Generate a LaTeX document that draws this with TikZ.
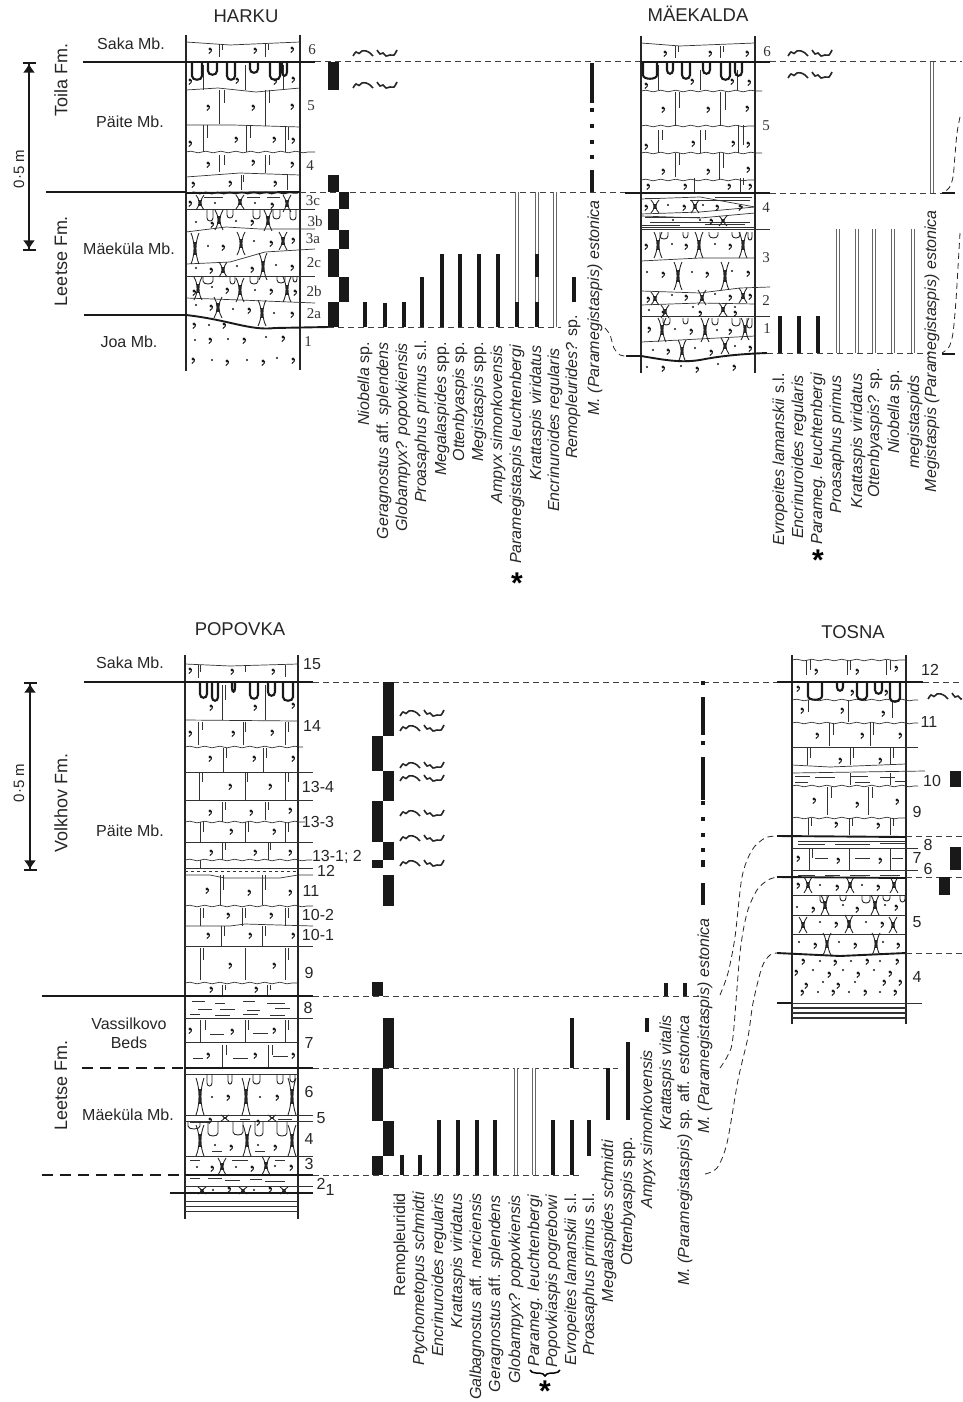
\documentclass[tikz,border=0pt]{standalone}
\usepackage{fontspec}
\setmainfont{Liberation Sans}
\newfontfamily\bedfont{Liberation Serif}
\usetikzlibrary{arrows.meta,decorations.pathmorphing,decorations.pathreplacing}
\tikzset{
  wall/.style={line width=1.9pt,black!85},
  marker/.style={line width=1.9pt,black!90},
  burrowline/.style={line width=2.1pt,black!90},
  bedline/.style={line width=.7pt,black!80},
  wavyline/.style={bedline,decorate,decoration={snake,amplitude=.8pt,segment length=15pt}},
  pinchline/.style={line width=.9pt,black!85},
  thindash/.style={line width=1pt,black!75,dash pattern=on 6pt off 4pt},
  thickdash/.style={line width=1.9pt,black!90,dash pattern=on 11pt off 7pt},
  curvedash/.style={line width=.8pt,black!85,dash pattern=on 6pt off 4pt},
  rangebar/.style={line width=4pt,black!90},
  openbar/.style={line width=.8pt,black!60,double=white,double distance=2.4pt},
  scalebar/.style={line width=1.6pt,black!90,{Bar[width=13pt]Latex[length=9pt,width=12pt]}-{Latex[length=9pt,width=12pt]Bar[width=13pt]}},
  titlelbl/.style={inner sep=0pt,font=\fontsize{18.5}{20}\selectfont,black!85},
  unitlbl/.style={inner sep=0pt,font=\fontsize{16}{19}\selectfont,black!85,align=center},
  fmlbl/.style={inner sep=0pt,rotate=90,font=\fontsize{18}{20}\selectfont,black!85},
  metrelbl/.style={inner sep=0pt,rotate=90,font=\fontsize{15}{18}\selectfont,black!85},
  bednum/.style={inner sep=0pt,font=\bedfont\fontsize{15}{17}\selectfont,black!80},
  bedsans/.style={inner sep=0pt,font=\fontsize{16}{18}\selectfont,black!85},
  taxon/.style={inner sep=0pt,rotate=90,anchor=east,font=\fontsize{16}{18}\selectfont\itshape,black!85},
  starlbl/.style={inner sep=0pt,font=\fontsize{30}{30}\selectfont\bfseries}
}
\newcommand{\limes}[1]{\foreach \x/\y in {#1} {\fill[black!90] (\x,\y) circle (1.6pt); \draw[line width=1pt,black!90] (\x+1.4,\y) .. controls (\x+1.5,\y+2.5) .. (\x-1.2,\y+4.5);}}
\newcommand{\sand}[1]{\foreach \x/\y in {#1} \fill[black!90] (\x,\y) circle (1.2pt);}
\newcommand{\joints}[1]{\foreach \x/\a/\b in {#1} \draw[bedline] (\x,\a) -- (\x,\b);}
\newcommand{\pinches}[1]{\foreach \x/\a/\b in {#1} {
  \draw[pinchline] (\x-4,\a) .. controls (\x,{\a+(\b-\a)*.3}) and (\x,{\b-(\b-\a)*.3}) .. (\x-4,\b);
  \draw[pinchline] (\x+4,\a) .. controls (\x,{\a+(\b-\a)*.3}) and (\x,{\b-(\b-\a)*.3}) .. (\x+4,\b);
  \draw[line width=1.7pt,black!85] (\x,{\a+(\b-\a)*.3}) -- (\x,{\b-(\b-\a)*.3});}}
\newcommand{\burrows}[2]{\foreach \a/\b/\d in {#2} \draw[burrowline] (\a,#1) -- (\a,#1+\d-2) .. controls (\a,#1+\d+3) and (\b,#1+\d+3) .. (\b,#1+\d-2) -- (\b,#1);}
\newcommand{\lobes}[2]{\foreach \a/\b/\d in {#2} \draw[pinchline] (\a,#1) -- (\a,#1+\d-3) .. controls (\a,#1+\d+1) and (\b,#1+\d+1) .. (\b,#1+\d-3) -- (\b,#1);}
\newcommand{\mudlines}[1]{\foreach \a/\b/\y in {#1} \draw[bedline] (\a,\y) -- (\b,\y);}
\newcommand{\bars}[1]{\foreach \x/\a/\b in {#1} \draw[rangebar] (\x,\a) -- (\x,\b);}
\newcommand{\openbars}[1]{\foreach \x/\a/\b in {#1} \draw[openbar] (\x,\a) -- (\x,\b);}
\newcommand{\blocks}[1]{\foreach \l/\r/\a/\b in {#1} \fill[black!90] (\l,\a) rectangle (\r,\b);}
\newcommand{\traces}[2]{
  \draw[line width=1.6pt,black!85] plot[smooth] coordinates {(#1,#2+4) (#1+3,#2) (#1+6,#2+1.5) (#1+9,#2-1) (#1+13,#2-1) (#1+17,#2+1) (#1+20,#2+4)};
  \draw[line width=1.6pt,black!85] plot[smooth] coordinates {(#1+24,#2-2) (#1+27,#2+2) (#1+30,#2+1) (#1+33,#2+4) (#1+37,#2+3) (#1+41,#2+3) (#1+44,#2-2)};}
\begin{document}
\begin{tikzpicture}[x=1pt,y=-1pt]
\path[use as bounding box,clip] (0,0) rectangle (962,1402);
% HARKU
\node[titlelbl] (harku) at (246,16) {HARKU};
\draw[wall] (186,35) -- (186,371);
\draw[wall] (300,35) -- (300,370);
\draw[bedline] (186,42) -- (230,45) -- (300,42);
\draw[bedline] (186,90) -- (218,88) -- (256,92) -- (300,88);
\draw[bedline] (186,125) -- (233,125) -- (300,127);
\draw[wavyline] (186,152) -- (315,152);
\draw[bedline] (186,177) -- (240,173) -- (300,175);
\draw[bedline] (186,209) -- (315,209);
\draw[bedline] (186,232) -- (226,227) -- (260,229) -- (315,229);
\draw[bedline] (186,264) -- (230,262) -- (265,252) -- (315,249);
\draw[bedline] (186,276) -- (315,276);
\draw[bedline] (186,298) -- (240,300) -- (315,303);
\joints{219/44/57,222/44/50,265/44/57,268/44/50,203/65/90,245/65/90,283/65/90,219/90/124,224/90/103,265/90/126,269/90/103,203/125/152,207/125/138,246/125/152,250/125/138,285/127/152,288/127/140,219/155/172,224/155/165,265/155/173,269/155/165,241/175/190,243/175/182,287/175/190}
\limes{210/49,255/49,292/48,190/80,237/79,275/80,293/78,208/106,253/106,292/105,190/142,236/138,274/138,293/139,208/163,253/161,292/163,193/183,230/182,275/182,190/202,272/204,212/223,252/221,223/246,271/242,293/239,211/269,252/268,292/266,194/291,227/289,271/290,295/291,211/306,249/309,292/313,194/324,224/324,210/339,244/339,283/337,193/359,227/361,263/361,293/359}
\sand{215/203,255/203,196/222,236/221,208/246,254/241,196/268,237/266,276/265,212/287,255/290,196/305,233/309,274/313,209/325,195/340,228/339,266/337,212/360,247/360,277/358}
\burrows{62}{192/202/16,208/217/11,227/235/16,250/258/9,270/280/16,282/287/12}
\lobes{209}{207/213/12,227/233/9,253/260/10,273/280/10,290/296/11}
\lobes{276}{203/213/8,230/235/8,250/258/8,277/285/7,293/297/6}
\pinches{200/195/210,240/195/209,287/195/212,219/210/230,268/210/231,195/233/264,241/232/255,283/232/250,223/262/277,263/253/280,198/277/300,240/278/302,287/277/302,218/297/318,262/300/326}
\mudlines{204/223/197,247/260/197,267/280/197}
\draw[marker] (83,62) -- (315,62);
\draw[marker] (46,192) -- (186,192);
\draw[marker] (186,193) -- (300,192);
\draw[line width=1.3pt,black!90,decorate,decoration={snake,amplitude=.7pt,segment length=12pt}] (190,193) -- (298,193);
\draw[marker] (84,315) -- (186,315) .. controls (230,320) and (250,331) .. (275,328) -- (328,327);
\draw[thindash] (315,62) -- (640,62);
\draw[thindash] (300,192) -- (625,192);
\draw[thindash] (328,327) -- (561,327);
\node[bednum] (hk6) at (312,50) {6};
\node[bednum] (hk5) at (311,106) {5};
\node[bednum] (hk4) at (310,166) {4};
\node[bednum] (hk3c) at (313,201) {3c};
\node[bednum] (hk3b) at (315,221) {3b};
\node[bednum] (hk3a) at (313,239) {3a};
\node[bednum] (hk2c) at (314,263) {2c};
\node[bednum] (hk2b) at (314,291) {2b};
\node[bednum] (hk2a) at (314,314) {2a};
\node[bednum] (hk1) at (308,342) {1};
\node[unitlbl] (sakah) at (131,44) {Saka Mb.};
\node[unitlbl] (paiteh) at (130,122) {Päite Mb.};
\node[unitlbl] (maekulah) at (129,249) {Mäeküla Mb.};
\node[unitlbl] (joah) at (129,342) {Joa Mb.};
\node[fmlbl] (toilah) at (61,80) {Toila Fm.};
\node[fmlbl] (leetseh) at (61,261) {Leetse Fm.};
\node[metrelbl] (metreh) at (19,169) {0·5 m};
\draw[scalebar] (29,62) -- (29,251);
% ranges at Harku
\blocks{328/339/62/90,328/339/175/192,339/349/192/209,328/339/209/230,339/349/230/249,328/339/249/277,339/349/277/302,328/339/302/327}
\traces{353}{52} \traces{353}{84}
\openbars{517/192/302,537/192/327,555/192/327}
\bars{365/302/327,385/303/327,404/302/327,422/277/327,442/254/327,460/254/327,479/254/327,498/254/327,517/302/327,537/254/277,537/302/327,574/277/302,592/63/103,592/173/192}
\foreach \y in {108,124,140,155,170} \fill[black!90] (590,\y) rectangle (594,\y+4);
\node[taxon] (niobh) at (365,342) {Niobella \textup{sp.}};
\node[taxon] (gerah) at (384,342) {Geragnostus \textup{aff.} splendens};
\node[taxon] (globh) at (403,343) {Globampyx? popovkiensis};
\node[taxon] (proah) at (422,340) {Proasaphus primus \textup{s.l.}};
\node[taxon] (megah) at (442,342) {Megalaspides \textup{spp.}};
\node[taxon] (otteh) at (460,342) {Ottenbyaspis \textup{sp.}};
\node[taxon] (megih) at (479,342) {Megistaspis \textup{spp.}};
\node[taxon] (ampyh) at (498,345) {Ampyx simonkovensis};
\node[taxon] (parah) at (517,345) {Paramegistaspis leuchtenbergi};
\node[taxon] (krath) at (537,345) {Krattaspis viridatus};
\node[taxon] (encrh) at (555,348) {Encrinuroides regularis};
\node[taxon] (remoh) at (573,315) {Remopleurides? \textup{sp.}};
\node[taxon] (estoh) at (595,200) {M. (Paramegistaspis) estonica};
\node[starlbl] (starh) at (517,583) {*};
\draw[curvedash] plot[smooth] coordinates {(605,328) (610,335) (614,348) (620,355) (626,356)};
% MAEKALDA
\node[titlelbl] (maekalda) at (698,14) {MÄEKALDA};
\draw[wall] (641,36) -- (641,373);
\draw[wall] (755,36) -- (755,373);
\draw[bedline] (641,43) -- (680,46) -- (755,43);
\draw[wavyline] (641,91) -- (762,91);
\draw[wavyline] (641,126) -- (755,126);
\draw[wavyline] (641,153) -- (762,153);
\draw[wavyline] (641,180) -- (755,180);
\draw[bedline] (641,199) -- (700,197) -- (755,207);
\draw[bedline] (641,214) -- (700,212) -- (755,207);
\draw[bedline] (641,216) -- (700,218) -- (755,213);
\draw[bedline] (641,227) -- (755,227);
\draw[bedline] (641,229) -- (770,229);
\draw[bedline] (641,261) -- (700,258) -- (755,258);
\draw[bedline] (641,291) -- (700,293) -- (740,288) -- (770,287);
\draw[bedline] (641,305) -- (700,303) -- (755,304);
\draw[bedline] (641,316) -- (770,316);
\draw[bedline] (641,342) -- (680,340) -- (755,336);
\joints{675/46/58,678/46/52,720/46/58,723/46/52,658/65/90,700/70/90,737/70/90,675/92/126,679/92/108,720/92/126,725/92/110,658/130/153,662/130/140,700/130/153,705/130/140,738/125/153,743/125/145,675/153/177,679/153/165,719/153/180,723/153/168,694/178/192,740/178/192,743/178/185}
\mudlines{645/660/198,690/750/200,715/752/197,645/700/217,650/700/222,705/745/224,641/680/225,700/750/222}
\limes{665/52,710/52,747/52,646/84,692/80,732/80,749/81,663/108,708/108,747/107,646/145,693/142,733/142,748/143,663/170,708/170,748/168,648/185,685/185,729/185,750/185,646/206,684/206,717/206,740/206,711/220,646/245,686/245,730/245,663/273,707/273,748/272,648/298,686/296,730/296,750/295,663/312,700/312,735/312,649/328,691/330,730/330,668/350,711/351,750/347,663/367,697/368,734/366}
\sand{668/205,703/205,742/207,673/220,700/220,672/244,715/244,647/272,692/272,732/271,672/295,715/294,649/310,693/307,735/307,675/329,717/330,653/350,695/348,735/346,647/367,681/366,718/364}
\burrows{62}{643/657/15,667/673/10,682/690/15,703/710/10,721/730/16,735/742/12}
\lobes{232}{660/668/7,683/688/6,709/718/6,732/740/6,748/752/8}
\lobes{318}{663/670/7,683/688/6,712/718/7,732/740/8,747/752/10}
\pinches{655/200/213,695/200/213,723/216/226,658/232/258,699/232/258,743/232/258,678/262/290,725/262/290,655/292/305,702/290/305,743/288/303,665/305/318,723/303/316,662/318/342,705/318/342,745/318/340,682/340/362,725/338/354}
\draw[marker] (641,62) -- (770,62);
\draw[marker] (625,193) -- (770,193);
\draw[marker] (626,356) -- (641,356) .. controls (665,360) and (680,363) .. (700,360) .. controls (720,356) and (740,354) .. (767,353);
\draw[thindash] (770,62) -- (962,62);
\draw[thindash] (770,193) -- (945,193);
\draw[thindash] (767,353) -- (930,353);
\draw[marker] (942,193) -- (955,193);
\draw[marker] (942,354) -- (955,354);
\node[bednum] (mk6) at (767,52) {6};
\node[bednum] (mk5) at (766,126) {5};
\node[bednum] (mk4) at (766,208) {4};
\node[bednum] (mk3) at (766,258) {3};
\node[bednum] (mk2) at (766,301) {2};
\node[bednum] (mk1) at (767,329) {1};
\traces{788}{52} \traces{788}{74}
\bars{780/316/353,799/316/353,818/316/353}
\openbars{838/229/353,857/229/353,874/229/353,893/229/353,913/229/353,932/62/193}
\node[taxon] (evrom) at (780,373) {Evropeites lamanskii \textup{s.l.}};
\node[taxon] (encrm) at (799,375) {Encrinuroides regularis};
\node[taxon] (param) at (818,373) {Parameg. leuchtenbergi};
\node[taxon] (proam) at (837,375) {Proasaphus primus};
\node[taxon] (kratm) at (858,373) {Krattaspis viridatus};
\node[taxon] (ottem) at (875,368) {Ottenbyaspis? \textup{sp.}};
\node[taxon] (niobm) at (895,370) {Niobella \textup{sp.}};
\node[taxon] (megim) at (915,375) {megistaspids};
\node[taxon] (estom) at (932,210) {Megistaspis (Paramegistaspis) estonica};
\node[starlbl] (starm) at (818,560) {*};
\draw[curvedash] plot[smooth] coordinates {(960,117) (957,133) (955,155) (953,177) (949,188) (942,193)};
\draw[curvedash] plot[smooth] coordinates {(960,233) (958,267) (956,300) (953,333) (949,347) (942,353)};
% POPOVKA
\node[titlelbl] (popovka) at (240,629) {POPOVKA};
\draw[wall] (185,655) -- (185,1219);
\draw[wall] (298,655) -- (298,1219);
\draw[bedline] (185,664) -- (230,666) -- (298,664);
\draw[bedline] (185,720) -- (298,721);
\draw[wavyline] (185,747) -- (303,747);
\draw[bedline] (185,772) -- (313,772);
\draw[bedline] (185,800) -- (313,800);
\draw[wavyline] (185,822) -- (305,822);
\draw[bedline] (185,842) -- (313,842);
\draw[wavyline] (185,860) -- (312,860);
\draw[bedline] (185,868) -- (313,868);
\draw[bedline,dashed] (185,871) -- (298,871);
\draw[bedline] (185,875) -- (210,875) -- (225,878) -- (280,878) -- (298,875) -- (313,875);
\draw[wavyline] (185,906) -- (313,906);
\draw[bedline] (185,926) -- (230,926) -- (245,924) -- (313,926);
\draw[bedline] (185,946) -- (313,946);
\draw[wavyline] (185,983) -- (298,983);
\draw[bedline] (185,1018) -- (313,1018);
\draw[bedline] (185,1042) -- (298,1042);
\draw[bedline] (185,1074) -- (298,1074);
\draw[bedline] (185,1115) -- (313,1115);
\draw[bedline] (185,1121) -- (313,1121);
\draw[bedline] (185,1156) -- (313,1156);
\draw[bedline] (185,1186) -- (313,1186);
\draw[bedline] (185,1201) -- (298,1201);
\draw[bedline] (185,1206) -- (298,1206);
\draw[bedline,line width=1pt] (185,1211) -- (298,1211);
\joints{198/665/678,200/665/672,245/665/672,285/665/677,222/685/720,225/685/700,265/685/720,198/722/745,202/722/730,243/722/745,245/722/732,285/722/745,288/722/732,223/748/772,226/748/758,263/748/772,266/748/758,199/772/800,202/772/782,245/772/800,247/772/782,285/772/800,288/772/782,222/802/822,225/802/810,265/802/820,268/802/810,200/822/842,203/822/832,245/822/842,248/822/832,285/822/842,288/822/832,222/842/860,225/842/850,268/842/860,270/842/850,200/860/868,220/875/905,223/875/890,262/875/905,265/875/890,200/908/926,203/908/918,242/908/926,245/908/918,285/908/926,288/908/918,221/926/946,224/926/936,262/926/946,265/926/936,200/948/980,203/948/960,245/948/980,285/948/980,288/948/960,222/985/995,225/985/990,267/985/995,270/985/990,200/1020/1042,205/1020/1030,245/1020/1042,248/1020/1030,285/1020/1042,288/1020/1030,222/1045/1068,226/1045/1055,268/1045/1068,272/1045/1055}
\limes{190/669,232/670,273/670,211/706,255/706,293/704,190/732,233/732,272/731,210/757,254/757,293/757,230/785,270/785,210/811,251/811,290/809,231/830,274/830,211/851,255/851,290/851,207/889,249/891,290/891,228/914,271/914,208/934,250/934,293/934,230/964,274/964,211/988,256/988,190/1029,232/1030,274/1029,208/1054,255/1054,293/1054,228/1096,277/1096,210/1119,258/1121,231/1146,275/1146,212/1167,252/1167,291/1166,229/1188,270/1188}
\sand{212/1097,260/1097,215/1145,258/1145,197/1167,236/1167,275/1166,213/1190,254/1190}
\mudlines{192/205/1001,215/225/1003,243/255/1001,267/285/1003,198/212/1009,220/235/1009,247/260/1010,275/290/1008,190/200/1014,215/230/1015,243/258/1014,270/285/1015,210/224/1034,253/268/1033,193/203/1058,233/248/1058,273/288/1056,190/200/1160,232/248/1160,275/285/1160,190/210/1122,240/250/1119,278/292/1119,212/222/1151,255/265/1151,190/200/1178,208/222/1178,225/240/1180,250/262/1179,265/285/1181}
\burrows{682}{200/207/14,212/218/17,232/235/8,250/258/15,268/275/12,283/293/17}
\lobes{1074}{207/212/12,228/232/10,253/260/10,277/283/10,290/295/8}
\lobes{1121}{188/200/8,208/218/15,233/243/14,255/263/15,277/287/15}
\pinches{200/1078/1115,246/1078/1115,292/1078/1115,225/1115/1121,272/1115/1121,200/1125/1156,247/1125/1156,292/1125/1156,222/1158/1175,266/1156/1175,202/1187/1194,243/1187/1194,284/1187/1194}
\draw[marker] (84,682) -- (313,682);
\draw[thindash] (313,682) -- (780,682);
\draw[marker] (42,996) -- (313,996);
\draw[thindash] (313,996) -- (700,996);
\draw[thickdash] (82,1068) -- (185,1068);
\draw[marker] (185,1068) -- (313,1068);
\draw[thindash] (313,1068) -- (618,1068);
\draw[thickdash] (42,1175) -- (185,1175);
\draw[marker] (185,1175) -- (313,1175);
\draw[thindash] (313,1175) -- (580,1175);
\draw[marker] (170,1193) -- (313,1193);
\node[bedsans] (pv15) at (312,664) {15};
\node[bedsans] (pv14) at (312,726) {14};
\node[bedsans] (pv13d) at (318,787) {13-4};
\node[bedsans] (pv13c) at (318,822) {13-3};
\node[bedsans] (pv13a) at (337,857) {13-1; 2};
\node[bedsans] (pv12) at (326,871) {12};
\node[bedsans] (pv11) at (311,891) {11};
\node[bedsans] (pv10b) at (318,915) {10-2};
\node[bedsans] (pv10a) at (318,935) {10-1};
\node[bedsans] (pv9) at (309,973) {9};
\node[bedsans] (pv8) at (308,1008) {8};
\node[bedsans] (pv7) at (309,1043) {7};
\node[bedsans] (pv6) at (309,1092) {6};
\node[bedsans] (pv5) at (321,1118) {5};
\node[bedsans] (pv4) at (309,1139) {4};
\node[bedsans] (pv3) at (309,1164) {3};
\node[bedsans] (pv2) at (321,1184) {2};
\node[bedsans] (pv1) at (330,1190) {1};
\node[unitlbl] (sakap) at (130,663) {Saka Mb.};
\node[unitlbl] (paitep) at (130,831) {Päite Mb.};
\node[unitlbl] (vassil) at (129,1033) {Vassilkovo\\Beds};
\node[unitlbl] (maekulap) at (128,1115) {Mäeküla Mb.};
\node[fmlbl] (volkhov) at (61,803) {Volkhov Fm.};
\node[fmlbl] (leetsep) at (61,1085) {Leetse Fm.};
\node[metrelbl] (metrep) at (19,783) {0·5 m};
\draw[scalebar] (30,682) -- (30,871);
% ranges at Popovka
\blocks{383/394/682/736,372/383/736/771,383/394/771/801,372/383/801/842,383/394/842/860,372/383/860/868,383/394/875/906,372/383/982/996,383/394/1018/1068,372/383/1068/1121,383/394/1121/1156,372/383/1156/1175}
\traces{400}{712} \traces{400}{727} \traces{400}{764} \traces{400}{777} \traces{400}{812} \traces{400}{837} \traces{400}{862}
\bars{402/1155/1175,420/1155/1175,439/1120/1175,458/1120/1175,477/1120/1175,495/1120/1175,553/1120/1175,572/1018/1068,572/1120/1175,589/1120/1156,608/1068/1120,628/1042/1120,647/1018/1032,666/983/996,685/983/996,703/697/735,703/757/800,703/860/867,703/883/905}
\openbars{516/1068/1175,534/1068/1175}
\foreach \y in {681,741,801,817,833,848} \fill[black!90] (701,\y) rectangle (705,\y+4);
\node[inner sep=0pt,rotate=90,anchor=east,font=\fontsize{16}{18}\selectfont,black!85] (remop) at (401,1193) {Remopleuridid};
\node[taxon] (ptycp) at (420,1192) {Ptychometopus schmidti};
\node[taxon] (encrp) at (439,1193) {Encrinuroides regularis};
\node[taxon] (kratp) at (458,1193) {Krattaspis viridatus};
\node[taxon] (galbp) at (477,1193) {Galbagnostus \textup{aff.} nericiensis};
\node[taxon] (gerap) at (496,1195) {Geragnostus \textup{aff.} splendens};
\node[taxon] (globp) at (516,1195) {Globampyx? popovkiensis};
\node[taxon] (parap) at (535,1195) {Parameg. leuchtenbergi};
\node[taxon] (popop) at (553,1195) {Popovkiaspis pogrebowi};
\node[taxon] (evrop) at (572,1193) {Evropeites lamanskii \textup{s.l.}};
\node[taxon] (proap) at (590,1193) {Proasaphus primus \textup{s.l.}};
\node[taxon] (megap) at (609,1140) {Megalaspides schmidti};
\node[taxon] (ottep) at (628,1137) {Ottenbyaspis \textup{spp.}};
\node[taxon] (ampyp) at (648,1050) {Ampyx simonkovensis};
\node[taxon] (vitap) at (667,1015) {Krattaspis vitalis};
\node[taxon] (affip) at (685,1015) {M. (Paramegistaspis) \textup{sp. aff.} estonica};
\node[taxon] (estop) at (705,918) {M. (Paramegistaspis) estonica};
\draw[line width=1.5pt,decorate,decoration={brace,amplitude=6pt}] (560,1370) -- (530,1370);
\node[starlbl] (starp) at (545,1391) {*};
\draw[curvedash] plot[smooth] coordinates {(720,995) (728,973) (735,937) (742,877) (752,850) (765,838) (777,836)};
\draw[curvedash] plot[smooth] coordinates {(720,1068) (728,1055) (733,1037) (740,953) (747,913) (757,890) (768,880) (777,877)};
\draw[curvedash] plot[smooth] coordinates {(705,1174) (717,1168) (727,1143) (738,1080) (748,1037) (753,1003) (762,967) (770,955) (777,953)};
% TOSNA
\node[titlelbl] (tosna) at (853,632) {TOSNA};
\draw[wall] (792,655) -- (792,1024);
\draw[wall] (906,655) -- (906,1024);
\draw[wavyline] (792,660) -- (906,660);
\draw[wavyline] (792,700) -- (918,700);
\draw[wavyline] (792,723) -- (918,723);
\draw[bedline] (792,747) -- (918,747);
\draw[bedline] (792,765) -- (830,767) -- (906,764);
\draw[bedline] (792,773) -- (925,771);
\draw[wavyline] (792,786) -- (918,786);
\draw[wavyline] (792,818) -- (906,818);
\draw[bedline] (792,848) -- (918,848);
\draw[bedline] (792,870) -- (918,870);
\draw[bedline] (792,895) -- (906,895);
\draw[bedline] (792,915) -- (906,915);
\draw[bedline] (792,934) -- (906,934);
\draw[bedline] (792,1003) -- (922,1003);
\draw[bedline,line width=1.2pt] (792,1008) -- (906,1008);
\draw[bedline,line width=1.2pt] (792,1013) -- (906,1013);
\draw[bedline,line width=1.2pt] (792,1018) -- (906,1018);
\joints{806/660/675,810/660/670,847/660/675,850/660/670,886/660/675,890/660/670,808/700/712,848/700/722,892/700/718,829/723/746,833/723/735,870/723/746,873/723/735,807/747/765,810/747/758,850/747/765,853/747/758,890/747/765,893/747/758,827/787/815,831/787/798,868/787/815,872/787/798,808/818/835,811/818/826,849/818/835,852/818/826,890/818/835,893/818/826,809/848/870,812/848/858,849/848/870,890/848/870,850/773/785,890/773/785}
\limes{816/670,857/670,896/667,798/687,852/691,886/691,802/709,842/709,883/712,817/734,862/734,900/734,840/759,880/759,814/799,857/803,897/800,836/823,878/824,798/857,838/859,880/859,798/884,837/886,878/886,813/908,857/908,896/906,836/923,882/923,815/944,855/944,898/944,803/960,835/961,867/960,897/960,796/971,829/973,858/973,890/972,806/984,838/984,884/981,900/981,802/991,833/991,865/991,895/991}
\sand{820/885,862/885,797/907,843/905,885/905,820/922,866/922,799/942,839/942,883/942,820/961,851/961,880/961,813/970,843/970,874/970,823/982,855/982,818/992,849/992,880/992}
\mudlines{795/810/776,815/835/777,850/868/776,880/895/777,795/808/782,855/870/782,895/905/781,798/905/841,798/825/844,835/870/844,880/905/843,815/828/858,855/870/858,892/903/858,798/815/875,825/840/875,850/870/875,880/900/875}
\burrows{682}{808/822/16,837/843/7,857/867/16,875/882/10,890/900/18}
\lobes{895}{820/827/8,840/846/6,862/870/8,883/890/6,900/905/7}
\pinches{808/877/893,850/877/893,894/877/893,825/895/915,875/895/915,803/917/933,849/915/933,893/917/933,827/933/955,876/933/955}
\draw[marker] (777,682) -- (923,682);
\draw[marker] (777,836) -- (906,837);
\draw[marker] (777,877) -- (906,878);
\draw[marker] (777,953) -- (840,956) -- (906,953);
\draw[marker] (777,1003) -- (792,1003);
\draw[thindash] (923,682) -- (962,682);
\draw[thindash] (906,836) -- (962,836);
\draw[thindash] (906,877) -- (962,877);
\draw[thindash] (906,953) -- (962,953);
\node[bedsans] (ts12) at (930,670) {12};
\node[bedsans] (ts11) at (929,722) {11};
\node[bedsans] (ts10) at (932,781) {10};
\node[bedsans] (ts9) at (917,812) {9};
\node[bedsans] (ts8) at (928,845) {8};
\node[bedsans] (ts7) at (917,858) {7};
\node[bedsans] (ts6) at (928,869) {6};
\node[bedsans] (ts5) at (917,922) {5};
\node[bedsans] (ts4) at (917,977) {4};
\traces{928}{695}
\blocks{950/961/771/787,950/961/847/870,939/950/877/895}
\end{tikzpicture}
\end{document}
